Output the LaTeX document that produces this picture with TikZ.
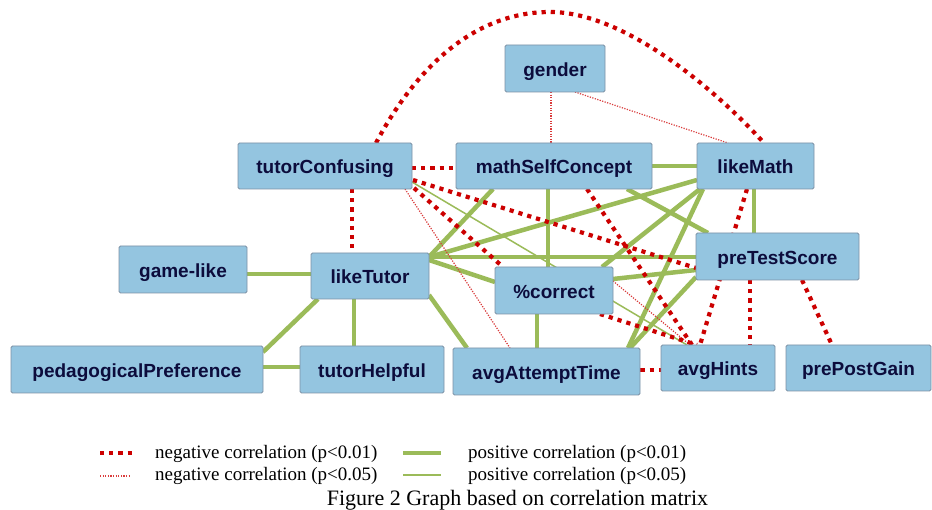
\documentclass[tikz,border=0pt]{standalone}
\usepackage{fontspec}
\setmainfont{Liberation Serif}
\newfontfamily\nodefont{Liberation Sans}
\usetikzlibrary{calc}
\definecolor{boxfill}{RGB}{148,197,224}
\definecolor{boxline}{RGB}{125,145,165}
\definecolor{navy}{RGB}{12,12,60}
\definecolor{pgreen}{RGB}{155,187,89}
\definecolor{nred}{RGB}{204,0,0}
\definecolor{nredthin}{RGB}{218,60,60}
\pgfdeclarelayer{paper}
\pgfdeclarelayer{edges}
\pgfsetlayers{paper,edges,main}
\tikzset{
  nbox/.style={draw=boxline, line width=0.8pt, fill=boxfill, rounded corners=1.5pt,
    inner sep=0pt, text=navy, font=\nodefont\bfseries\fontsize{19}{19}\selectfont,
    text height=16pt, text depth=0pt},
  posstrong/.style={draw=pgreen, line width=4.5pt},
  posweak/.style={draw=pgreen, line width=1.5pt},
  negstrong/.style={draw=nred, line width=4.2pt, dash pattern=on 4.2pt off 5pt},
  negweak/.style={draw=nredthin, line width=1.2pt, dash pattern=on 1.2pt off 1.4pt},
  legtext/.style={anchor=base west, inner sep=0pt, font=\fontsize{19}{19}\selectfont},
}
\begin{document}
\begin{tikzpicture}[x=1pt, y=-1pt]
\begin{pgfonlayer}{paper}
\fill[white] (0,0) rectangle (932,510);
\end{pgfonlayer}
\useasboundingbox (0,0) rectangle (932,510);

% nodes
\node[nbox, minimum width=100pt, minimum height=47pt] (gen) at (555,68.5) {gender};
\node[nbox, minimum width=174pt, minimum height=46pt] (tc) at (325,166) {tutorConfusing};
\node[nbox, minimum width=196pt, minimum height=46pt] (msc) at (554,166) {mathSelfConcept};
\node[nbox, minimum width=117pt, minimum height=46pt] (lm) at (755.5,166) {likeMath};
\node[nbox, minimum width=128pt, minimum height=47pt] (gl) at (183,269.5) {game-like};
\node[nbox, minimum width=118pt, minimum height=46pt] (lt) at (370,276) {likeTutor};
\node[nbox, minimum width=163pt, minimum height=47pt] (pts) at (777.5,256.5) {preTestScore};
\node[nbox, minimum width=118pt, minimum height=47pt] (cor) at (554,290.5) {\%correct};
\node[nbox, minimum width=252pt, minimum height=47pt] (pp) at (137,369.5) {pedagogicalPreference};
\node[nbox, minimum width=144pt, minimum height=47pt] (th) at (372,369.5) {tutorHelpful};
\node[nbox, minimum width=187pt, minimum height=47pt] (aat) at (546.5,371.5) {avgAttemptTime};
\node[nbox, minimum width=114pt, minimum height=46pt] (ah) at (718,368) {avgHints};
\node[nbox, minimum width=145pt, minimum height=46pt] (ppg) at (858.5,368) {prePostGain};

\begin{pgfonlayer}{edges}
% positive, p<0.01
\draw[posstrong] (msc.east) -- (lm.west);
\draw[posstrong] ($(msc)+(-6,23)$) -- ($(cor)+(-6,-23.5)$);
\draw[posstrong] ($(lt)+(59,-19)$) -- ($(msc)+(-61,23)$);
\draw[posstrong] ($(msc)+(73,23)$) -- ($(pts)+(-69.5,-23.5)$);
\draw[posstrong] ($(lt)+(59,-19)$) -- ($(lm)+(-58.5,14)$);
\draw[posstrong] ($(lm)+(-1.5,23)$) -- ($(pts)+(-23.5,-23.5)$);
\draw[posstrong] ($(lm)+(-55.5,23)$) -- ($(cor)+(48,-23.5)$);
\draw[posstrong] ($(lm)+(-52.5,23)$) -- ($(aat)+(81.5,-23.5)$);
\draw[posstrong] ($(pts)+(-81.5,20.5)$) -- ($(aat)+(83.5,-23.5)$);
\draw[posstrong] ($(lt)+(59,-19)$) -- ($(pts)+(-81.5,0.5)$);
\draw[posstrong] ($(cor)+(59,-11.5)$) -- ($(pts)+(-81.5,13.5)$);
\draw[posstrong] ($(lt)+(59,-16)$) -- ($(cor)+(-59,-8.5)$);
\draw[posstrong] ($(cor)+(-17,23.5)$) -- ($(aat)+(-9.5,-23.5)$);
\draw[posstrong] ($(lt)+(59,19)$) -- ($(aat)+(-79.5,-23.5)$);
\draw[posstrong] ($(gl.east)+(0,4.5)$) -- ($(lt.west)+(0,-2)$);
\draw[posstrong] ($(lt)+(-52,23)$) -- ($(pp)+(126,-17.5)$);
\draw[posstrong] ($(lt)+(-16,23)$) -- ($(th)+(-18,-23.5)$);
\draw[posstrong] ($(pp)+(126,-2.5)$) -- ($(th)+(-72,-2.5)$);
% positive, p<0.05
\draw[posweak] ($(tc)+(87,16)$) -- ($(ah)+(-31,-23)$);
% negative, p<0.05
\draw[negweak] ($(gen)+(-4,23.5)$) -- ($(msc)+(-3,-23)$);
\draw[negweak] ($(gen)+(20,23.5)$) -- ($(lm)+(-27.5,-23)$);
\draw[negweak] ($(tc)+(80,23)$) -- ($(aat)+(-36.5,-23.5)$);
\draw[negweak] ($(cor)+(59,-9.5)$) -- ($(ah)+(-28,-23)$);
% negative, p<0.01
\draw[negstrong] ($(tc)+(87,2)$) -- ($(msc)+(-98,2)$);
\draw[negstrong] ($(tc)+(88,14)$) -- ($(pts)+(-81.5,11.5)$);
\draw[negstrong] ($(tc)+(89,22)$) -- ($(cor)+(-51,-23.5)$);
\draw[negstrong] ($(tc)+(27,23)$) -- ($(lt)+(-18,-23)$);
\draw[negstrong] ($(tc)+(51,-23)$) .. controls ($(tc)+(79,-76)$) and ($(tc)+(135,-154)$)
   .. ($(tc)!0.5!(lm)+(9.75,-154)$) .. controls +(80,0) and ($(lm)+(-30.5,-66)$) .. ($(lm)+(8.5,-23)$);
\draw[negstrong] ($(lm)+(-8.5,23)$) -- ($(ah)+(-18,-23)$);
\draw[negstrong] ($(pts)+(-27.5,23.5)$) -- ($(ah)+(32,-23)$);
\draw[negstrong] ($(pts)+(24.5,23.5)$) -- ($(ppg)+(-26.5,-23)$);
\draw[negstrong] ($(aat.east)+(0,-1.5)$) -- ($(ah.west)+(0,2)$);
\draw[negstrong] ($(cor)+(46,23.5)$) -- ($(ah)+(-21,-23)$);
\draw[negstrong] ($(msc)+(33,23)$) -- ($(ah)+(-26,-23)$);
\end{pgfonlayer}

% legend
\draw[negstrong] (100,453) -- (132,453);
\draw[negweak] (100,476) -- (131,476);
\draw[posstrong] (403,453) -- (441,453);
\draw[posweak] (403,475) -- (441,475);
\node[legtext] (l1) at (155,458) {negative correlation (p<0.01)};
\node[legtext] (l2) at (155,480) {negative correlation (p<0.05)};
\node[legtext] (l3) at (468,458) {positive correlation (p<0.01)};
\node[legtext] (l4) at (468,480) {positive correlation (p<0.05)};
\node[anchor=base, inner sep=0pt, font=\fontsize{22}{22}\selectfont] (cap) at (517.5,505.5) {Figure 2 Graph based on correlation matrix};
\end{tikzpicture}
\end{document}
